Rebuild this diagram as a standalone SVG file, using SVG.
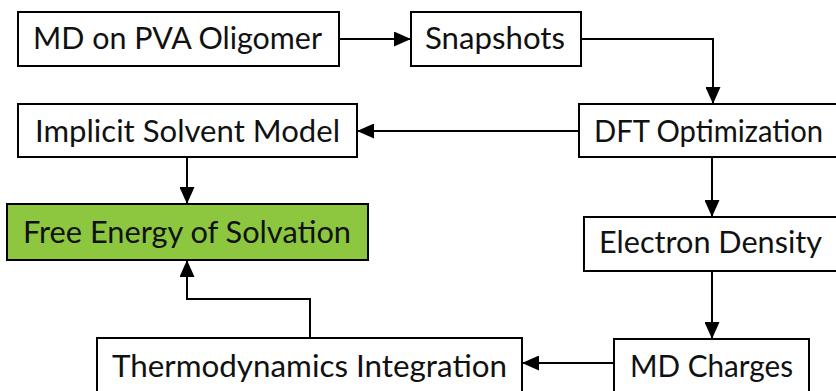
<svg xmlns="http://www.w3.org/2000/svg" width="836" height="391" viewBox="0 0 836 391">
<style>
.box{fill:#fff;stroke:#000;stroke-width:2}
.green{fill:#8DC63F}
.t{font-family:Lato,"Open Sans","Liberation Sans",sans-serif;font-size:31px;fill:#111}
.c{fill:none;stroke:#000;stroke-width:2}
</style>
<defs>
<marker id="ah" viewBox="0 0 17 15" refX="17" refY="7.5" markerWidth="17" markerHeight="15" markerUnits="userSpaceOnUse" orient="auto">
<path d="M0,0 L17,7.5 L0,15 z" fill="#000"/>
</marker>
</defs>
<g id="connectors">
<path class="c" d="M339,39 H411" marker-end="url(#ah)"/>
<path class="c" d="M581,39 H713 V104" marker-end="url(#ah)"/>
<path class="c" d="M579,131 H357" marker-end="url(#ah)"/>
<path class="c" d="M187,157 V204" marker-end="url(#ah)"/>
<path class="c" d="M712,157 V217" marker-end="url(#ah)"/>
<path class="c" d="M712,271 V339" marker-end="url(#ah)"/>
<path class="c" d="M614,363 H522" marker-end="url(#ah)"/>
<path class="c" d="M310,338 V299 H187 V260" marker-end="url(#ah)"/>
</g>
<g id="md-pva">
<rect class="box" x="18" y="12" width="321" height="54"/>
<text class="t" x="33" y="49" textLength="289" lengthAdjust="spacingAndGlyphs">MD on PVA Oligomer</text>
</g>
<g id="snapshots">
<rect class="box" x="411" y="12" width="170" height="54"/>
<text class="t" x="425" y="49" textLength="140" lengthAdjust="spacingAndGlyphs">Snapshots</text>
</g>
<g id="dft">
<rect class="box" x="579" y="104" width="266" height="53"/>
<text class="t" x="594" y="142" textLength="229" lengthAdjust="spacingAndGlyphs">DFT Optimization</text>
</g>
<g id="implicit">
<rect class="box" x="18" y="104" width="339" height="53"/>
<text class="t" x="35" y="142" textLength="305" lengthAdjust="spacingAndGlyphs">Implicit Solvent Model</text>
</g>
<g id="free-energy">
<rect class="box green" x="7" y="204" width="361" height="56"/>
<text class="t" x="23" y="243" textLength="328" lengthAdjust="spacingAndGlyphs">Free Energy of Solvation</text>
</g>
<g id="electron-density">
<rect class="box" x="584" y="217" width="262" height="54"/>
<text class="t" x="599" y="253" textLength="223" lengthAdjust="spacingAndGlyphs">Electron Density</text>
</g>
<g id="md-charges">
<rect class="box" x="614" y="339" width="195" height="60"/>
<text class="t" x="630" y="377" textLength="163" lengthAdjust="spacingAndGlyphs">MD Charges</text>
</g>
<g id="thermo">
<rect class="box" x="97" y="338" width="425" height="60"/>
<text class="t" x="112" y="377" textLength="395" lengthAdjust="spacingAndGlyphs">Thermodynamics Integration</text>
</g>
</svg>
